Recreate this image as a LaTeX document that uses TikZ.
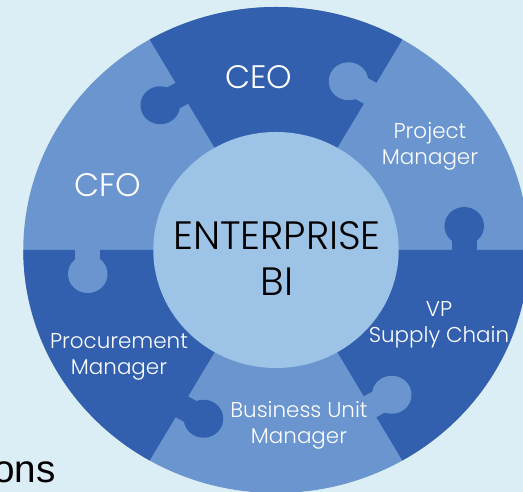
\documentclass[tikz,border=0pt]{standalone}
\usepackage{fontspec}
\setmainfont{Poppins}[UprightFont=* Light]
\newfontfamily\arialfont{Liberation Sans}

\definecolor{bgblue}{HTML}{DCEEF5}
\definecolor{darkblue}{HTML}{3260AE}
\definecolor{midblue}{HTML}{6A95CE}
\definecolor{innerblue}{HTML}{9DC3E6}

\begin{document}
\begin{tikzpicture}[x=0.02cm, y=0.02cm,
        piece/.style={text=white, align=center, inner sep=0pt,
            font=\fontsize{12.2}{14.7}\selectfont},
        bigpiece/.style={text=white, inner sep=0pt,
            font=\fontsize{18.5}{20}\selectfont}]
        \fill[bgblue] (-276,-242) rectangle (247,250);
        \useasboundingbox (-276,-242) rectangle (247,250);

        % ring of puzzle pieces
        \begin{scope}[xscale=1.04]
            \fill[midblue] (0,0) circle (243);
            \foreach \a in {60,180,300}
                \fill[darkblue] (0,0) -- (\a:243) arc (\a:\a+60:243) -- cycle;
            \foreach \a/\c in {0/darkblue,60/midblue,120/darkblue,
                    180/midblue,240/darkblue,300/midblue}
            {
                \begin{scope}[rotate=\a]
                    \fill[\c] (169,-1) rectangle (193,24);
                    \fill[\c] (181,24) circle (19);
                \end{scope}
            }
            \fill[innerblue] (0,0) circle (118);
        \end{scope}

        \node[align=center, inner sep=0pt,
            font=\fontsize{22.5}{26.6}\selectfont] (bi) at (1,-8.5) {ENTERPRISE\\BI};
        \node[bigpiece] (ceo) at (-17,173) {CEO};
        \node[bigpiece] (cfo) at (-168,65) {CFO};
        \node[piece] (pm) at (154,104) {Project\\Manager};
        \node[piece] (vp) at (163,-75) {VP\\Supply Chain};
        \node[piece] (bum) at (23,-175.5) {Business Unit\\Manager};
        \node[piece] (proc) at (-157,-106.5) {Procurement\\Manager};

        \node[anchor=base west, inner sep=0pt,
            font=\arialfont\fontsize{22}{24}\selectfont] (ons) at (-283,-233) {ons};
    \end{tikzpicture}
\end{document}
